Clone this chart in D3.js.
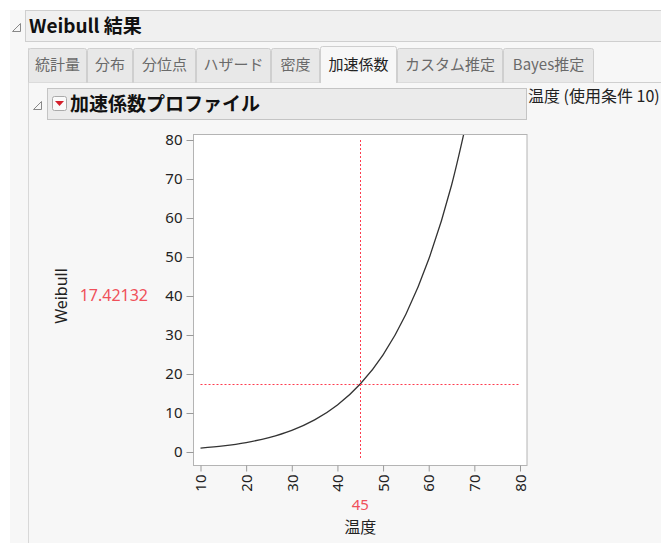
<!DOCTYPE html>
<html>
<head>
<meta charset="utf-8">
<script src="https://cdn.jsdelivr.net/npm/d3@7"></script>
<style>
  body { margin: 0; background: #fff; }
  text { font-family: "Noto Sans", "Noto Sans CJK JP", sans-serif; }
  .jp { font-family: "Noto Sans CJK JP", "Noto Sans", sans-serif; }
</style>
</head>
<body>
<div id="chart"></div>
<script>
// values
var temps = [10, 15, 20, 25, 30, 35, 40, 45, 50, 55, 60, 65, 70];
var factors = [1.0, 1.57, 2.43, 3.70, 5.55, 8.23, 12.05, 17.42, 24.9, 35.3, 49.4, 68.4, 93.9];
var xTicks = [10, 20, 30, 40, 50, 60, 70, 80];
var yTicks = [0, 10, 20, 30, 40, 50, 60, 70, 80];
var tabNames = ["統計量", "分布", "分位点", "ハザード", "密度", "加速係数", "カスタム推定", "Bayes推定"];
var tabEdges = [28, 87, 133, 196, 271, 320, 397, 503, 594];
var activeTab = 5;
var curTemp = 45;
var curFactor = 17.42132;

function base() {
    var W = 661, H = 543;
    var svg = d3.select("#chart").append("svg")
        .attr("width", W).attr("height", H);

    svg.append("rect").attr("width", W).attr("height", H).attr("fill", "#fff");

    // outer report panel
    svg.append("rect").attr("x", 10).attr("y", 10).attr("width", W).attr("height", H)
        .attr("fill", "#f7f7f7");
    svg.append("rect").attr("x", 25.5).attr("y", 10.5).attr("width", W).attr("height", 31)
        .attr("fill", "#f0f0f0").attr("stroke", "#cfcfcf");
    svg.append("path").attr("d", "M12.5,31.5 L20.5,23.5 L20.5,31.5 Z")
        .attr("fill", "none").attr("stroke", "#888");
    svg.append("text").attr("class", "jp").attr("x", 29).attr("y", 33)
        .attr("font-size", 19).attr("font-weight", "bold").attr("fill", "#111")
        .text("Weibull 結果");

    // tabs
    svg.append("line").attr("x1", 28).attr("x2", W).attr("y1", 82.5).attr("y2", 82.5)
        .attr("stroke", "#cfcfcf");
    svg.append("line").attr("x1", 28.5).attr("x2", 28.5).attr("y1", 48).attr("y2", H)
        .attr("stroke", "#d8d8d8");
    tabNames.forEach(function(name, i) {
        var x0 = tabEdges[i], x1 = tabEdges[i + 1];
        var act = i === activeTab;
        var top = act ? 46.5 : 48.5;
        svg.append("path")
            .attr("d", "M" + (x0 + 0.5) + "," + (act ? 83 : 82.5) + " L" + (x0 + 0.5) + "," + (top + 2) +
                " Q" + (x0 + 0.5) + "," + top + " " + (x0 + 2.5) + "," + top +
                " L" + (x1 - 2.5) + "," + top + " Q" + (x1 - 0.5) + "," + top + " " + (x1 - 0.5) + "," + (top + 2) +
                " L" + (x1 - 0.5) + "," + (act ? 83 : 82.5))
            .attr("fill", act ? "#f7f7f7" : "#e8e8e8")
            .attr("stroke", "#cfcfcf");
        svg.append("text").attr("class", "jp")
            .attr("x", (x0 + x1) / 2).attr("y", 70)
            .attr("text-anchor", "middle").attr("font-size", 15)
            .attr("fill", act ? "#222" : "#6a6a6a")
            .text(name);
    });

    // profiler outline box
    svg.append("path").attr("d", "M33.5,109.5 L41.5,101.5 L41.5,109.5 Z")
        .attr("fill", "none").attr("stroke", "#888");
    svg.append("rect").attr("x", 47.5).attr("y", 88.5).attr("width", 479).attr("height", 31)
        .attr("fill", "#ebebeb").attr("stroke", "#c4c4c4");
    svg.append("rect").attr("x", 52.5).attr("y", 96.5).attr("width", 14).attr("height", 14)
        .attr("rx", 2).attr("fill", "#fafafa").attr("stroke", "#aaa");
    svg.append("path").attr("d", "M55,101 L64,101 L59.5,106 Z").attr("fill", "#d4202c");
    svg.append("text").attr("class", "jp").attr("x", 70).attr("y", 111)
        .attr("font-size", 19).attr("font-weight", "bold").attr("fill", "#111")
        .text("加速係数プロファイル");
    svg.append("text").attr("class", "jp").attr("x", 528).attr("y", 102)
        .attr("font-size", 16).attr("fill", "#222")
        .text("温度 (使用条件 10)");

    // plot
    var x = d3.scaleLinear().domain([10, 80]).range([200.5, 520]);
    var y = d3.scaleLinear().domain([0, 80]).range([452, 140]);
    var fx0 = 193, fx1 = 526.5, fy0 = 134, fy1 = 465;

    svg.append("rect").attr("x", fx0 + 0.5).attr("y", fy0 + 0.5)
        .attr("width", fx1 - fx0).attr("height", fy1 - fy0)
        .attr("fill", "#fff").attr("stroke", "#b4b4b4");

    var yAxis = svg.append("g").attr("transform", "translate(" + (fx0 + 0.5) + ",0)")
        .call(d3.axisLeft(y).tickValues(yTicks).tickSize(7).tickPadding(4));
    yAxis.select(".domain").remove();
    yAxis.selectAll(".tick line").attr("stroke", "#999");
    yAxis.selectAll("text").attr("font-size", 15).attr("fill", "#222")
        .attr("font-family", "'Noto Sans', sans-serif");

    var xAxis = svg.append("g").attr("transform", "translate(0," + (fy1 + 0.5) + ")")
        .call(d3.axisBottom(x).tickValues(xTicks).tickSize(6).tickPadding(4));
    xAxis.select(".domain").remove();
    xAxis.selectAll(".tick line").attr("stroke", "#999");
    xAxis.selectAll("text").attr("font-size", 15).attr("fill", "#222")
        .attr("font-family", "'Noto Sans', sans-serif")
        .attr("transform", "rotate(-90)")
        .attr("text-anchor", "end").attr("x", -9).attr("y", 0).attr("dy", "0.35em");

    svg.append("clipPath").attr("id", "clip").append("rect")
        .attr("x", fx0 + 1).attr("y", fy0 + 1).attr("width", fx1 - fx0 - 1).attr("height", fy1 - fy0 - 1);

    var pts = temps.map(function(t, i) { return [t, factors[i]]; });
    svg.append("path").datum(pts)
        .attr("clip-path", "url(#clip)")
        .attr("fill", "none").attr("stroke", "#333").attr("stroke-width", 1.3)
        .attr("d", d3.line().x(function(d) { return x(d[0]); })
            .y(function(d) { return y(d[1]); }).curve(d3.curveMonotoneX));

    // crosshair
    svg.append("line").attr("x1", x(10)).attr("x2", x(80))
        .attr("y1", Math.round(y(curFactor)) + 0.5).attr("y2", Math.round(y(curFactor)) + 0.5)
        .attr("stroke", "#ff3b4e").attr("stroke-dasharray", "2,2");
    svg.append("line").attr("x1", Math.round(x(curTemp)) + 0.5).attr("x2", Math.round(x(curTemp)) + 0.5)
        .attr("y1", y(80)).attr("y2", fy1 - 5)
        .attr("stroke", "#ff3b4e").attr("stroke-dasharray", "2,2");

    svg.append("text").attr("x", 148).attr("y", y(40) + 5)
        .attr("text-anchor", "end").attr("font-size", 16).attr("fill", "#f0505a")
        .text(curFactor.toFixed(5));
    svg.append("text").attr("x", x(curTemp)).attr("y", 510)
        .attr("text-anchor", "middle").attr("font-size", 15).attr("fill", "#f0505a")
        .text(curTemp);
    svg.append("text").attr("class", "jp").attr("x", x(curTemp)).attr("y", 533)
        .attr("text-anchor", "middle").attr("font-size", 16).attr("fill", "#222")
        .text("温度");
    svg.append("text").attr("transform", "translate(67,296) rotate(-90)")
        .attr("text-anchor", "middle").attr("font-size", 16).attr("fill", "#222")
        .text("Weibull");
}

window.onload = base;
</script>
</body>
</html>
